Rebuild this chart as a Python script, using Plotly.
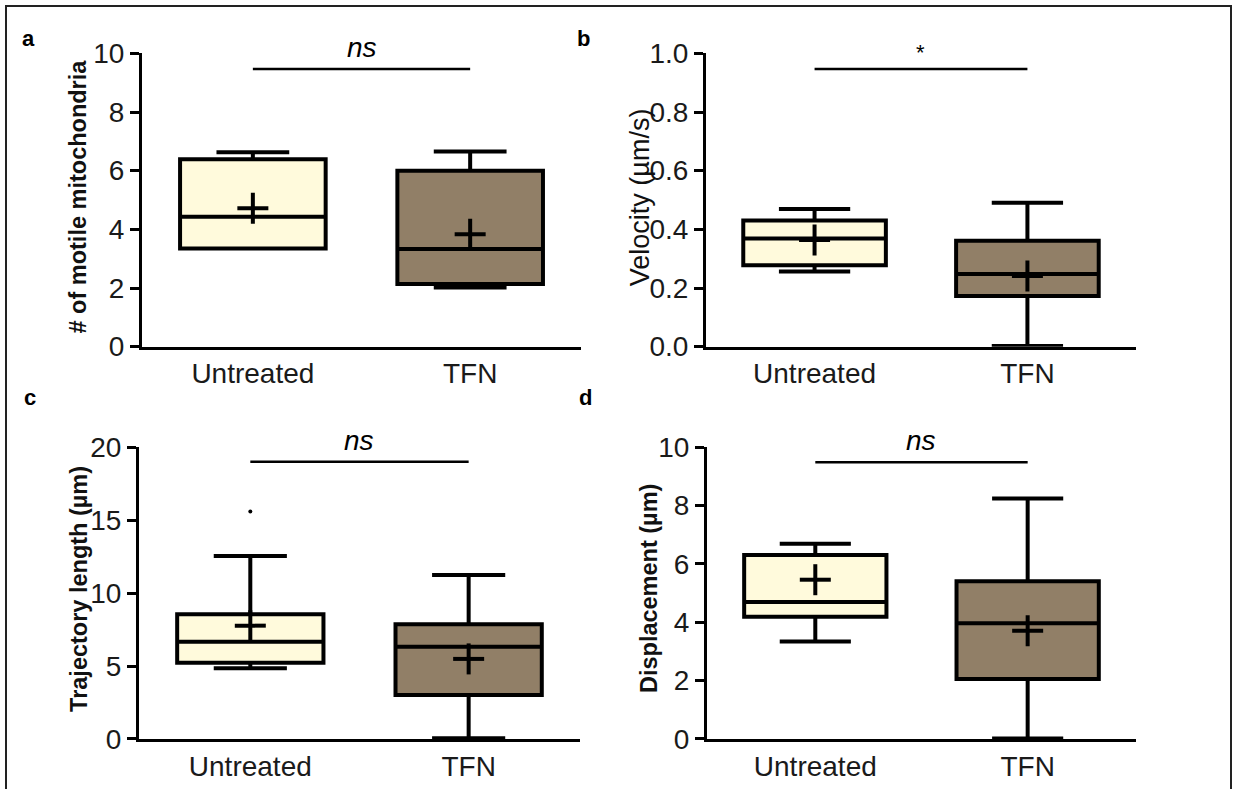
import plotly.graph_objects as go

categories = ["Untreated", "TFN"]

# Panel a: # of motile mitochondria
a_lower = [3.35, 2.02]
a_q1 = [3.35, 2.14]
a_median = [4.43, 3.33]
a_q3 = [6.39, 6.00]
a_upper = [6.63, 6.65]
a_mean = [4.72, 3.83]

# Panel b: velocity (um/s)
b_lower = [0.256, 0.002]
b_q1 = [0.278, 0.173]
b_median = [0.369, 0.248]
b_q3 = [0.430, 0.361]
b_upper = [0.469, 0.491]
b_mean = [0.364, 0.241]

# Panel c: trajectory length (um)
c_lower = [4.85, 0.05]
c_q1 = [5.23, 3.02]
c_median = [6.67, 6.33]
c_q3 = [8.55, 7.86]
c_upper = [12.55, 11.25]
c_mean = [7.77, 5.49]
c_outlier_group = ["Untreated"]
c_outlier_y = [15.6]

# Panel d: displacement (um)
d_lower = [3.34, 0.02]
d_q1 = [4.19, 2.06]
d_median = [4.70, 3.97]
d_q3 = [6.31, 5.41]
d_upper = [6.69, 8.24]
d_mean = [5.46, 3.71]

sig_levels = [9.47, 0.947, 19.0, 9.49]
sig_labels = ["ns", "*", "ns", "ns"]
panel_letters = ["a", "b", "c", "d"]
y_titles = ["# of motile mitochondria", "Velocity (µm/s)",
            "Trajectory length (µm)", "Displacement (µm)"]
y_ranges = [[0, 10], [0, 1.0], [0, 20], [0, 10]]
y_dticks = [2, 0.2, 5, 2]

fills = ["#FFFADC", "#917F67"]
FONT = "Liberation Sans, Arial, sans-serif"

panels = [
    (a_lower, a_q1, a_median, a_q3, a_upper, a_mean),
    (b_lower, b_q1, b_median, b_q3, b_upper, b_mean),
    (c_lower, c_q1, c_median, c_q3, c_upper, c_mean),
    (d_lower, d_q1, d_median, d_q3, d_upper, d_mean),
]

# category index positions on a linear x axis
xpos = list(range(len(categories)))

x_domains = [[0.1152, 0.4712], [0.5726, 0.9213], [0.1127, 0.4704], [0.5734, 0.9213]]
y_domains = [[0.5606, 0.9324], [0.5606, 0.9324], [0.0634, 0.4331], [0.0634, 0.4331]]
X_RANGE = [-0.51, 1.51]
CROSS_HALF_PX = 15.5

W, H = 1233, 789

fig = go.Figure()

for i, (lo, q1, med, q3, up, mn) in enumerate(panels):
    xa = "x" if i == 0 else f"x{i+1}"
    ya = "y" if i == 0 else f"y{i+1}"
    for j in xpos:
        fig.add_trace(go.Box(
            x=[j], q1=[q1[j]], median=[med[j]], q3=[q3[j]],
            lowerfence=[lo[j]], upperfence=[up[j]],
            fillcolor=fills[j], line=dict(color="black", width=4),
            width=0.67, whiskerwidth=0.5, boxpoints=False,
            name=categories[j],
            xaxis=xa, yaxis=ya, showlegend=False, hoverinfo="skip"))
    # mean "+" drawn as error-bar arms of fixed pixel length
    px_w = (x_domains[i][1] - x_domains[i][0]) * W
    px_h = (y_domains[i][1] - y_domains[i][0]) * H
    ex = CROSS_HALF_PX * (X_RANGE[1] - X_RANGE[0]) / px_w
    ey = CROSS_HALF_PX * (y_ranges[i][1] - y_ranges[i][0]) / px_h
    fig.add_trace(go.Scatter(
        x=xpos, y=mn, mode="markers",
        marker=dict(size=1, color="rgba(0,0,0,0)"),
        error_x=dict(type="constant", value=ex, color="black", thickness=4, width=0),
        error_y=dict(type="constant", value=ey, color="black", thickness=4, width=0),
        xaxis=xa, yaxis=ya, showlegend=False, hoverinfo="skip"))
    # significance bar
    fig.add_trace(go.Scatter(
        x=xpos, y=[sig_levels[i]] * len(xpos), mode="lines",
        line=dict(color="black", width=2.5),
        xaxis=xa, yaxis=ya, showlegend=False, hoverinfo="skip"))
    is_star = sig_labels[i] == "*"
    fig.add_annotation(
        x=sum(xpos) / len(xpos), y=sig_levels[i], xref=xa, yref=ya,
        text=sig_labels[i], showarrow=False,
        xanchor="center", yanchor="bottom", yshift=2 if is_star else 4,
        font=dict(family=FONT, size=22 if is_star else 28, color="black",
                  style="normal" if is_star else "italic"))

fig.add_trace(go.Scatter(
    x=[categories.index(g) for g in c_outlier_group], y=c_outlier_y,
    mode="markers", marker=dict(color="black", size=4),
    xaxis="x3", yaxis="y3", showlegend=False, hoverinfo="skip"))

layout = dict(
    width=W, height=H,
    margin=dict(l=0, r=0, t=0, b=0, autoexpand=False),
    paper_bgcolor="white", plot_bgcolor="white",
    boxmode="overlay", showlegend=False,
    font=dict(family=FONT, color="black"),
)
for i in range(4):
    xk = "xaxis" if i == 0 else f"xaxis{i+1}"
    yk = "yaxis" if i == 0 else f"yaxis{i+1}"
    ya = "y" if i == 0 else f"y{i+1}"
    xa = "x" if i == 0 else f"x{i+1}"
    layout[xk] = dict(
        domain=x_domains[i], anchor=ya, type="linear",
        tickmode="array", tickvals=xpos, ticktext=categories,
        range=X_RANGE, showline=True, linecolor="black", linewidth=3,
        ticks="", showgrid=False, zeroline=False, automargin=False,
        tickfont=dict(family=FONT, size=28, color="#1a1a1a"))
    layout[yk] = dict(
        domain=y_domains[i], anchor=xa, range=y_ranges[i],
        dtick=y_dticks[i], tick0=0,
        tickformat=".1f" if i == 1 else "d",
        showline=True, linecolor="black", linewidth=3,
        ticks="outside", ticklen=9, tickwidth=3, tickcolor="black",
        showgrid=False, zeroline=False, automargin=False,
        tickfont=dict(family=FONT, size=28, color="#1a1a1a"))

fig.update_layout(**layout)

title_pos = [(0.0633, 0.751, "bold"), (0.519, 0.750, "normal"),
             (0.064, 0.2535, "bold"), (0.5264, 0.2535, "bold")]
title_sizes = [23.5, 27, 23.5, 23.5]
for i, (tx, ty, w) in enumerate(title_pos):
    fig.add_annotation(
        x=tx, y=ty, xref="paper", yref="paper", text=y_titles[i],
        textangle=-90, showarrow=False, xanchor="center", yanchor="middle",
        font=dict(family=FONT, size=title_sizes[i], color="#111", weight=w))

letter_pos = [(0.0235, 0.9506), (0.4736, 0.9506), (0.0243, 0.4956), (0.4745, 0.4956)]
for (lx, ly), lt in zip(letter_pos, panel_letters):
    fig.add_annotation(
        x=lx, y=ly, xref="paper", yref="paper", text=lt, showarrow=False,
        xanchor="center", yanchor="middle",
        font=dict(family=FONT, size=22, color="black", weight="bold"))

fig.add_shape(type="rect", xref="paper", yref="paper",
              x0=6 / W, x1=1231 / W, y0=-0.05, y1=1 - 6 / H,
              line=dict(color="#222", width=2), fillcolor="rgba(0,0,0,0)",
              layer="above")

fig.write_html("out.html")
